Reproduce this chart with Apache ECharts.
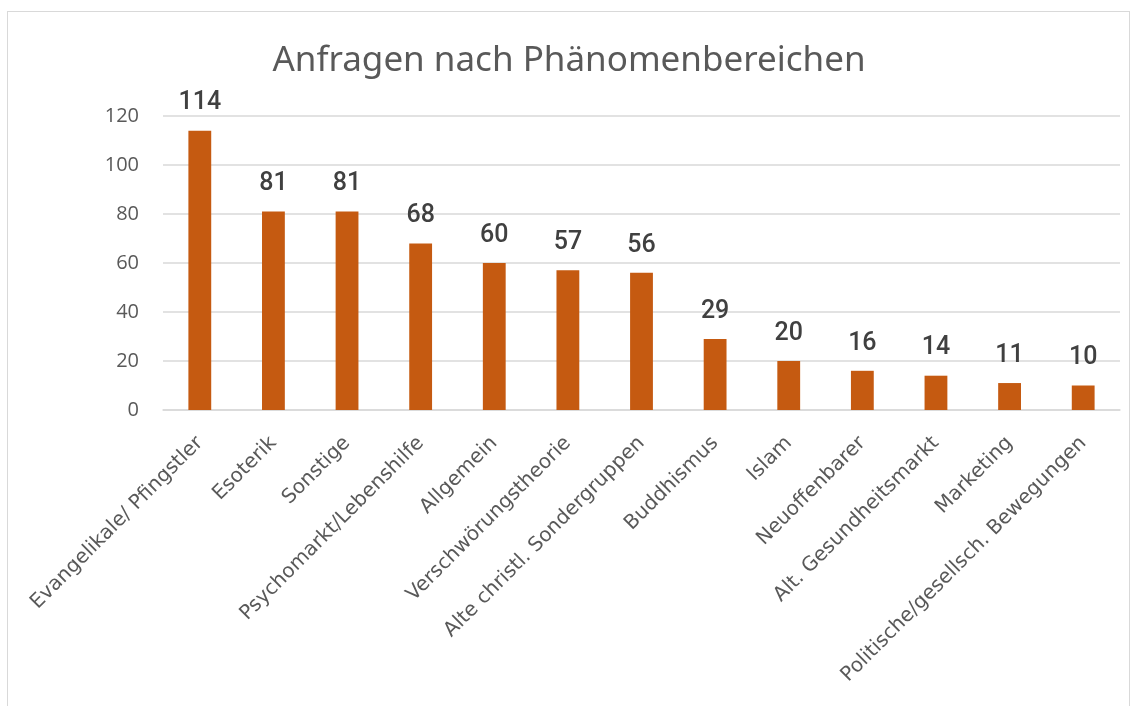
<!DOCTYPE html>
<html>
<head>
<meta charset="utf-8">
<script src="https://cdn.jsdelivr.net/npm/echarts@6/dist/echarts.min.js"></script>
<style>
html, body { margin: 0; padding: 0; background: #fff; }
#frame { position: absolute; left: 7px; top: 11px; width: 1123px; height: 720px; border: 1px solid #d9d9d9; box-sizing: border-box; }
#chart { position: absolute; left: 0; top: 0; width: 1138px; height: 706px; }
</style>
</head>
<body>
<div id="frame"></div>
<div id="chart"></div>
<script>
// Anfragen je Phänomenbereich
var categories = ['Evangelikale/ Pfingstler', 'Esoterik', 'Sonstige', 'Psychomarkt/Lebenshilfe', 'Allgemein',
    'Verschwörungstheorie', 'Alte christl. Sondergruppen', 'Buddhismus', 'Islam', 'Neuoffenbarer',
    'Alt. Gesundheitsmarkt', 'Marketing', 'Politische/gesellsch. Bewegungen'];
var counts = [114, 81, 81, 68, 60, 57, 56, 29, 20, 16, 14, 11, 10];
var yTicks = [0, 20, 40, 60, 80, 100, 120];

var chart = echarts.init(document.getElementById('chart'));
chart.setOption({
    animation: false,
    title: {
        text: 'Anfragen nach Phänomenbereichen',
        left: 'center',
        top: 39,
        textStyle: { fontFamily: 'Noto Sans', fontSize: 35, fontWeight: 'normal', color: '#595959' }
    },
    grid: { left: 163, right: 18, top: 116, bottom: 296 },
    xAxis: {
        type: 'category',
        data: categories,
        axisLine: { lineStyle: { color: '#d9d9d9', width: 1.5 } },
        axisTick: { show: false },
        axisLabel: {
            interval: 0,
            rotate: 45,
            margin: 30,
            fontFamily: 'DejaVu Sans',
            fontSize: 20,
            color: '#595959'
        }
    },
    yAxis: {
        type: 'value',
        min: yTicks[0],
        max: yTicks[yTicks.length - 1],
        interval: 20,
        axisLine: { show: false },
        axisTick: { show: false },
        splitLine: { lineStyle: { color: '#d9d9d9', width: 1.5 } },
        axisLabel: { margin: 24, fontFamily: 'Open Sans', fontSize: 20, color: '#595959' }
    },
    series: [{
        type: 'bar',
        data: counts,
        barWidth: '31%',
        itemStyle: { color: '#c55a11' },
        label: {
            show: true,
            position: 'top',
            distance: 15,
            fontFamily: 'Roboto',
            fontSize: 25,
            fontWeight: 500,
            color: '#404040'
        }
    }]
});
</script>
</body>
</html>
